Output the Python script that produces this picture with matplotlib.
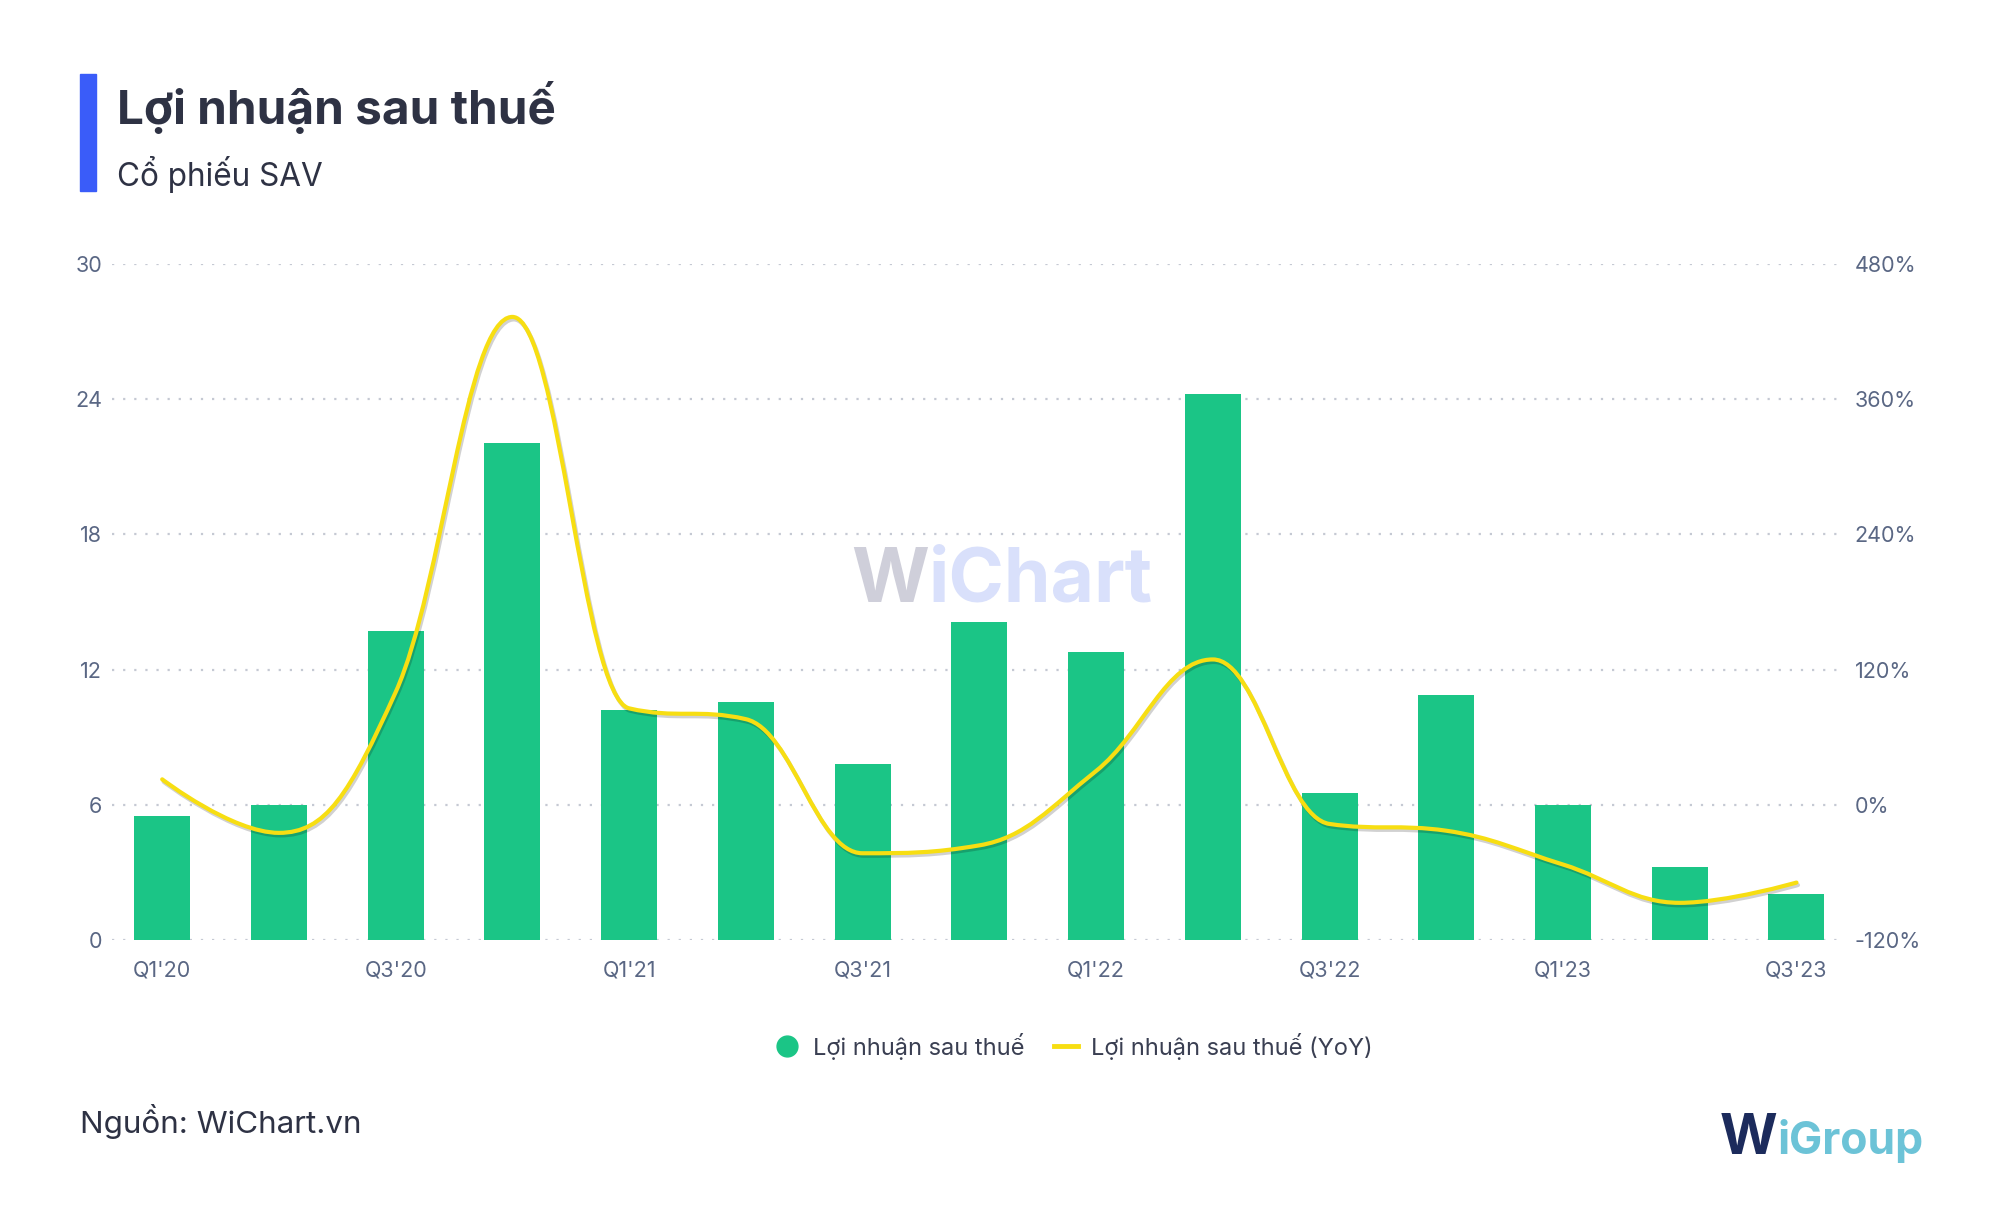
import numpy as np
import matplotlib
matplotlib.use('Agg')
import matplotlib.pyplot as plt
from matplotlib.path import Path
from matplotlib.patches import PathPatch, Rectangle
from matplotlib.lines import Line2D
import matplotlib.transforms as mtransforms

plt.rcParams['font.family'] = ['Inter', 'DejaVu Sans']

quarters = ["Q1'20", "Q2'20", "Q3'20", "Q4'20", "Q1'21", "Q2'21", "Q3'21", "Q4'21",
            "Q1'22", "Q2'22", "Q3'22", "Q4'22", "Q1'23", "Q2'23", "Q3'23"]
profit = [5.49, 6.0, 13.7, 22.07, 10.19, 10.58, 7.81, 14.09,
          12.79, 24.23, 6.51, 10.87, 6.0, 3.23, 2.04]
yoy = [22.6, -24.9, 100, 433, 85.6, 76, -43, -36,
       30, 129, -17, -23, -53, -87, -69]

left_ticks = [0, 6, 12, 18, 24, 30]
right_ticks = [-120, 0, 120, 240, 360, 480]

GREEN = '#1BC586'
YELLOW = '#F7DE12'
TICK = '#5A6784'
DARK = '#2E3244'


def spline_path(xs, ys, smoothing=1.5):
    n = len(xs)
    verts = [(xs[0], ys[0])]
    codes = [Path.MOVETO]
    right_prev = (xs[0], ys[0])
    d = smoothing + 1
    for i in range(1, n):
        x, y = xs[i], ys[i]
        if i < n - 1:
            lx, ly = xs[i - 1], ys[i - 1]
            nx, ny = xs[i + 1], ys[i + 1]
            lcx = (smoothing * x + lx) / d
            lcy = (smoothing * y + ly) / d
            rcx = (smoothing * x + nx) / d
            rcy = (smoothing * y + ny) / d
            corr = (rcy - lcy) * (rcx - x) / (rcx - lcx) + y - rcy
            lcy += corr
            rcy += corr
            if lcy > max(ly, y):
                lcy = max(ly, y); rcy = 2 * y - lcy
            elif lcy < min(ly, y):
                lcy = min(ly, y); rcy = 2 * y - lcy
            if rcy > max(ny, y):
                rcy = max(ny, y); lcy = 2 * y - rcy
            elif rcy < min(ny, y):
                rcy = min(ny, y); lcy = 2 * y - rcy
        else:
            lcx, lcy = x, y
            rcx, rcy = x, y
        verts += [right_prev, (lcx, lcy), (x, y)]
        codes += [Path.CURVE4] * 3
        right_prev = (rcx, rcy)
    return Path(verts, codes)


fig = plt.figure(figsize=(20, 12.17), dpi=100)
fig.patch.set_facecolor('white')

ax = fig.add_axes([0.056, 0.2276, 0.865, 0.5555])
ax2 = ax.twinx()

x = np.arange(len(quarters))
ax.bar(x, profit, width=0.48, color=GREEN, zorder=3)

ax.set_xlim(-0.43, len(quarters) - 1 + 0.39)
ax.set_ylim(0, 30)
ax.set_yticks(left_ticks)
ax.set_yticklabels([str(t) for t in left_ticks])
ax.set_xticks(x[::2])
ax.set_xticklabels(quarters[::2])
ax.grid(axis='y', color='#C5C9D3', linestyle=(0, (1, 4)), linewidth=1.6, zorder=1)
ax.set_axisbelow(True)

ax2.set_ylim(-120, 480)
ax2.set_yticks(right_ticks)
ax2.set_yticklabels([f'{t}%' for t in right_ticks])

for a in (ax, ax2):
    for s in a.spines.values():
        s.set_visible(False)
    a.tick_params(length=0, labelsize=15.5, labelcolor=TICK)
ax.tick_params(axis='y', pad=7)
ax.tick_params(axis='x', pad=15)
ax2.tick_params(axis='y', pad=9)

path = spline_path(list(x), yoy)
shadow_tr = mtransforms.offset_copy(ax2.transData, fig=fig, x=1.5, y=-2.5, units='dots')
ax2.add_patch(PathPatch(path, facecolor='none', edgecolor='#000000', alpha=0.18,
                        lw=3.0, transform=shadow_tr, zorder=4, capstyle='round'))
ax2.add_patch(PathPatch(path, facecolor='none', edgecolor=YELLOW, lw=3.0,
                        zorder=5, capstyle='round', joinstyle='round'))

# watermark
fig.text(0.4645, 0.5054, 'W', fontsize=54, fontweight='bold', color='#CFCFDA',
         ha='right', va='baseline', zorder=0)
fig.text(0.4645, 0.5054, 'iChart', fontsize=54, fontweight='bold', color='#D9E0FB',
         ha='left', va='baseline', zorder=0)

# title block
fig.patches.append(Rectangle((0.040, 1 - 191 / 1217), 0.008, 117 / 1217,
                             transform=fig.transFigure, color='#3A5CF9', zorder=5))
fig.text(0.0585, 1 - 124 / 1217, 'Lợi nhuận sau thuế', fontsize=34.3, fontweight='bold',
         color=DARK, ha='left', va='baseline')
fig.text(0.0585, 1 - 186 / 1217, 'Cổ phiếu SAV', fontsize=22.7, color=DARK,
         ha='left', va='baseline')

# legend
handles = [Line2D([], [], marker='o', linestyle='None', markerfacecolor=GREEN,
                  markeredgecolor=GREEN, markersize=15),
           Line2D([], [], color=YELLOW, lw=3.5)]
fig.legend(handles, ['Lợi nhuận sau thuế', 'Lợi nhuận sau thuế (YoY)'],
           loc='center', bbox_to_anchor=(0.537, 1 - 1046 / 1217), ncol=2,
           frameon=False, fontsize=17, labelcolor='#3A3F52', handlelength=1.05,
           handletextpad=0.55, columnspacing=1.25)

# source
fig.text(0.040, 1 - 1133 / 1217, 'Nguồn: WiChart.vn', fontsize=22.6, color=DARK,
         ha='left', va='baseline')

# logo
fig.text(0.8885, 0.0518, 'W', fontsize=40, fontweight='bold', color='#1C2B5C',
         ha='right', va='baseline')
fig.text(0.8885, 0.0518, 'iGroup', fontsize=32, fontweight='bold', color='#6CC3D7',
         ha='left', va='baseline')

fig.savefig('out.png', dpi=100, facecolor='white')
